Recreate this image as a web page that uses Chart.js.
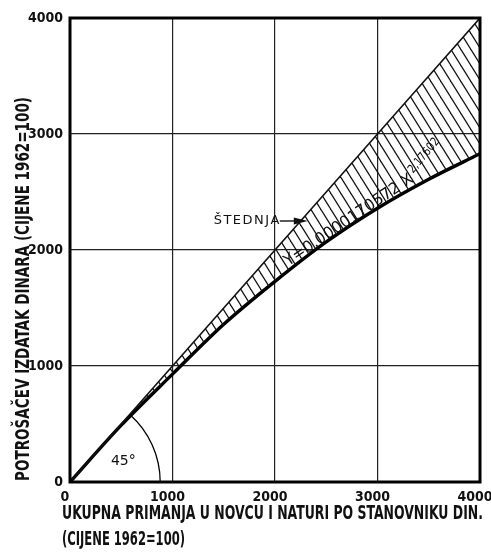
<!DOCTYPE html>
<html>
<head>
<meta charset="utf-8">
<script src="https://cdn.jsdelivr.net/npm/chart.js@4"></script>
<style>
  html, body { margin: 0; padding: 0; background: #fff; }
  #wrap { width: 491px; height: 554px; }
</style>
</head>
<body>
<div id="wrap"><canvas id="savingsChart" width="491" height="554"></canvas></div>
<script>
// income per head (x axis), same points for both lines
const income = [0, 500, 1000, 1500, 2000, 2500, 3000, 3500, 4000];
// the 45 degree line (spending = income)
const diagonal = [0, 500, 1000, 1500, 2000, 2500, 3000, 3500, 4000];
// consumer spending curve
const spending = [0, 490, 930, 1360, 1730, 2070, 2360, 2610, 2830];
const axisTicks = [0, 1000, 2000, 3000, 4000];

const xTitle = "UKUPNA PRIMANJA U NOVCU I NATURI PO STANOVNIKU DIN.";
const xTitle2 = "(CIJENE 1962=100)";
const yTitle = "POTROŠAČEV IZDATAK DINARA (CIJENE 1962=100)";
const savingsLabel = "ŠTEDNJA";
const formulaText = "Y=0,0000170572 X";
const formulaExp = "2,17602";
const angleLabel = "45°";

const narrow = "'Liberation Sans Narrow', 'DejaVu Sans Condensed', sans-serif";
const plain = "'DejaVu Sans', sans-serif";

// hatch pattern for the savings band
function hatch() {
  const w = 10, h = 16;
  const c = document.createElement("canvas");
  c.width = w; c.height = h;
  const g = c.getContext("2d");
  g.strokeStyle = "#111";
  g.lineWidth = 1.2;
  for (const dx of [-w, 0, w]) {
    g.beginPath();
    g.moveTo(dx - w, -h);
    g.lineTo(dx + 2 * w, 2 * h);
    g.stroke();
  }
  return g.createPattern(c, "repeat");
}

// draw text squeezed / stretched to a given width
function fitText(ctx, text, x, y, width) {
  const w = ctx.measureText(text).width;
  ctx.save();
  ctx.translate(x, y);
  ctx.scale(width / w, 1);
  ctx.fillText(text, 0, 0);
  ctx.restore();
}

const drawings = {
  id: "drawings",
  afterDatasetsDraw(chart) {
    const { ctx, chartArea: a, scales: { x, y } } = chart;
    ctx.save();
    // frame
    ctx.strokeStyle = "#000";
    ctx.lineWidth = 3;
    ctx.strokeRect(a.left, a.top, a.right - a.left, a.bottom - a.top);

    // 45 degree arc
    const x0 = x.getPixelForValue(0), y0 = y.getPixelForValue(0);
    const r = x.getPixelForValue(880) - x0;
    const ang = Math.atan2(y0 - y.getPixelForValue(4000), x.getPixelForValue(4000) - x0);
    ctx.lineWidth = 1.3;
    ctx.beginPath();
    ctx.arc(x0, y0, r, -ang, 0);
    ctx.stroke();
    ctx.fillStyle = "#111";
    ctx.font = "14px " + plain;
    ctx.textAlign = "center";
    ctx.textBaseline = "middle";
    ctx.fillText(angleLabel, x.getPixelForValue(520), y.getPixelForValue(180));

    // savings label with arrow
    const tipX = x.getPixelForValue(2320), tipY = y.getPixelForValue(2250);
    ctx.font = "13px " + plain;
    ctx.letterSpacing = "1.5px";
    ctx.textAlign = "right";
    ctx.fillText(savingsLabel, tipX - 27, tipY);
    ctx.letterSpacing = "0px";
    ctx.lineWidth = 1.3;
    ctx.beginPath();
    ctx.moveTo(tipX - 28, tipY);
    ctx.lineTo(tipX - 10, tipY);
    ctx.stroke();
    ctx.beginPath();
    ctx.moveTo(tipX, tipY);
    ctx.lineTo(tipX - 14, tipY - 3.5);
    ctx.lineTo(tipX - 14, tipY + 3.5);
    ctx.closePath();
    ctx.fill();

    // regression formula along the band
    const fx = x.getPixelForValue(2130), fy = y.getPixelForValue(1860);
    ctx.save();
    ctx.translate(fx, fy);
    ctx.rotate(-34 * Math.PI / 180);
    ctx.textAlign = "left";
    ctx.textBaseline = "alphabetic";
    ctx.font = "16px " + plain;
    fitText(ctx, formulaText, 0, 0, 152);
    ctx.translate(155, -7);
    ctx.rotate(-16 * Math.PI / 180);
    ctx.font = "12px " + plain;
    fitText(ctx, formulaExp, 0, 0, 42);
    ctx.restore();

    ctx.restore();
  },
  afterDraw(chart) {
    const ctx = chart.ctx;
    ctx.save();
    ctx.fillStyle = "#111";
    ctx.textAlign = "left";
    ctx.textBaseline = "alphabetic";
    ctx.font = "bold 19px " + narrow;
    fitText(ctx, xTitle, 62, 519, 421);
    fitText(ctx, xTitle2, 62, 545, 123);
    ctx.translate(29, 481);
    ctx.rotate(-Math.PI / 2);
    fitText(ctx, yTitle, 0, 0, 384);
    ctx.restore();
  }
};

const tickFont = { family: narrow, size: 14, weight: "bold" };
const plainNumber = v => String(v);

const ctx = document.getElementById("savingsChart").getContext("2d");
new Chart(ctx, {
  type: "line",
  data: {
    datasets: [
      {
        data: income.map((v, i) => ({ x: v, y: diagonal[i] })),
        borderColor: "#111",
        borderWidth: 1.6,
        backgroundColor: hatch(),
        fill: "+1",
        pointRadius: 0,
        tension: 0
      },
      {
        data: income.map((v, i) => ({ x: v, y: spending[i] })),
        borderColor: "#000",
        borderWidth: 3.4,
        fill: false,
        pointRadius: 0,
        cubicInterpolationMode: "monotone"
      }
    ]
  },
  options: {
    responsive: false,
    animation: false,
    layout: { padding: { top: 18, right: 11, left: 0, bottom: 0 } },
    plugins: { legend: { display: false }, tooltip: { enabled: false } },
    scales: {
      x: {
        type: "linear",
        min: 0,
        max: 4000,
        afterBuildTicks: s => { s.ticks = axisTicks.map(v => ({ value: v })); },
        afterFit: s => { s.height = 72; s.paddingLeft = 0; s.paddingRight = 0; },
        grid: { color: "#222", lineWidth: 1.2, drawTicks: false },
        border: { display: false },
        ticks: { font: tickFont, color: "#111", padding: 7, maxRotation: 0, labelOffset: -5, callback: plainNumber }
      },
      y: {
        min: 0,
        max: 4000,
        afterBuildTicks: s => { s.ticks = axisTicks.map(v => ({ value: v })); },
        afterFit: s => { s.width = 70; s.paddingTop = 0; s.paddingBottom = 0; },
        grid: { color: "#222", lineWidth: 1.2, drawTicks: false },
        border: { display: false },
        ticks: { font: tickFont, color: "#111", padding: 7, callback: plainNumber }
      }
    }
  },
  plugins: [drawings]
});
</script>
</body>
</html>
